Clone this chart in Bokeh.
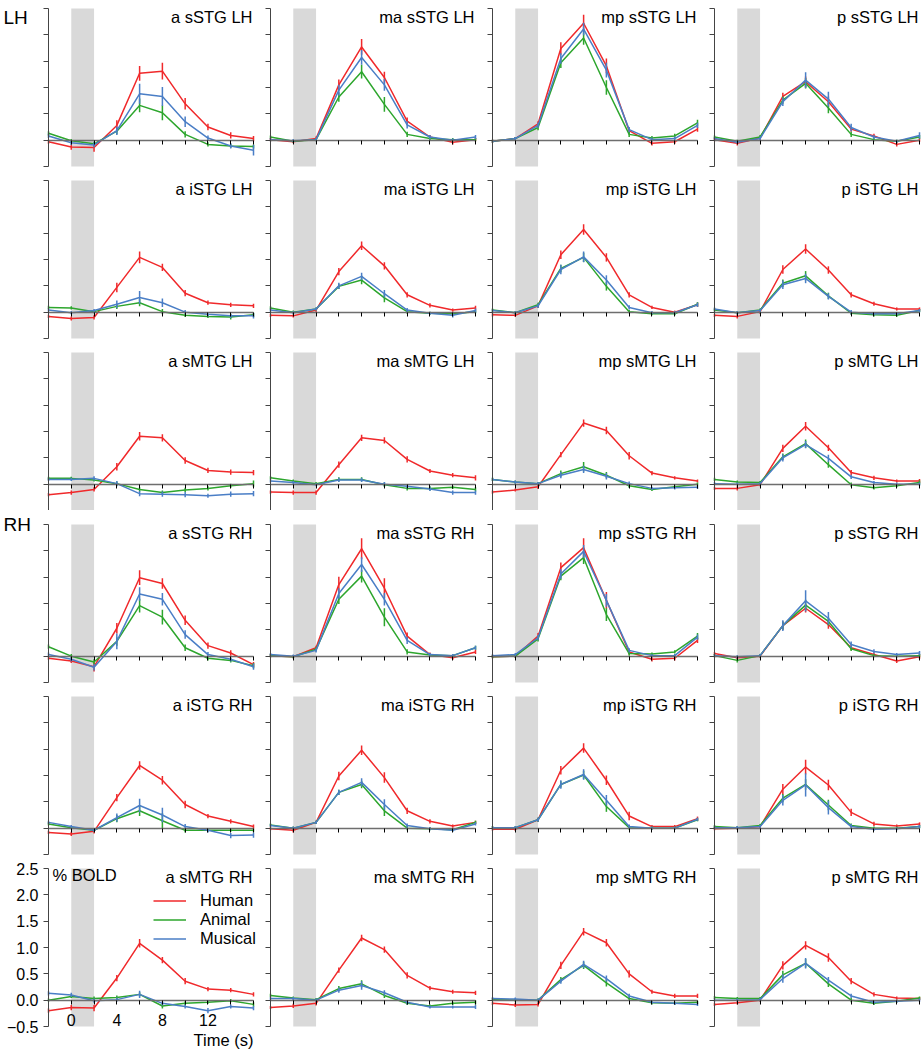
from bokeh.plotting import figure
from bokeh.layouts import gridplot
from bokeh.models import Range1d, FixedTicker, Label, Legend, LegendItem, BoxAnnotation
from bokeh.embed import file_html
from bokeh.resources import INLINE

# ---------------- data ----------------
time_s = [-2, 0, 2, 4, 6, 8, 10, 12, 14, 16]
t_min, t_max = -2, 16
bold_min, bold_max = -0.5, 2.5
stim_on, stim_off = 0, 2
y_ticks = [-0.5, 0.0, 0.5, 1.0, 1.5, 2.0, 2.5]
y_tick_labels = ["\u22120.5", "0.0", "0.5", "1.0", "1.5", "2.0", "2.5"]
x_ticks = [0, 2, 4, 6, 8, 10, 12, 14, 16]
x_tick_labels = ["0", "", "4", "", "8", "", "12", "", ""]
regions = ["sSTG LH", "iSTG LH", "sMTG LH", "sSTG RH", "iSTG RH", "sMTG RH"]
positions = ["a", "ma", "mp", "p"]
conditions = ["Human", "Animal", "Musical"]
hemi_labels = {0: "LH", 3: "RH"}

# row: sSTG LH
a_sSTG_LH_human = [-0.03, -0.13, -0.14, 0.28, 1.27, 1.31, 0.69, 0.25, 0.09, 0.03]
a_sSTG_LH_animal = [0.13, -0.01, -0.07, 0.17, 0.66, 0.52, 0.11, -0.08, -0.11, -0.12]
a_sSTG_LH_musical = [0.08, -0.05, -0.09, 0.18, 0.88, 0.83, 0.35, 0.04, -0.11, -0.19]
a_sSTG_LH_human_err = [0.04, 0.05, 0.08, 0.10, 0.14, 0.16, 0.11, 0.06, 0.06, 0.05]
a_sSTG_LH_animal_err = [0.04, 0.03, 0.04, 0.06, 0.13, 0.14, 0.06, 0.04, 0.04, 0.04]
a_sSTG_LH_musical_err = [0.04, 0.04, 0.05, 0.08, 0.19, 0.18, 0.10, 0.05, 0.05, 0.10]

ma_sSTG_LH_human = [0.01, -0.03, 0.03, 1.05, 1.77, 1.19, 0.36, 0.06, -0.04, 0.01]
ma_sSTG_LH_animal = [0.06, -0.02, 0.01, 0.82, 1.30, 0.68, 0.11, 0.03, 0.01, 0.01]
ma_sSTG_LH_musical = [0.01, -0.01, 0.01, 0.95, 1.57, 1.05, 0.29, 0.06, 0.00, 0.06]
ma_sSTG_LH_human_err = [0.03, 0.03, 0.04, 0.10, 0.15, 0.11, 0.07, 0.04, 0.04, 0.03]
ma_sSTG_LH_animal_err = [0.03, 0.03, 0.03, 0.09, 0.13, 0.14, 0.05, 0.03, 0.03, 0.03]
ma_sSTG_LH_musical_err = [0.03, 0.03, 0.03, 0.10, 0.14, 0.11, 0.07, 0.04, 0.03, 0.04]

mp_sSTG_LH_human = [-0.02, 0.03, 0.31, 1.74, 2.22, 1.41, 0.18, -0.06, -0.03, 0.21]
mp_sSTG_LH_animal = [-0.02, 0.03, 0.24, 1.47, 1.94, 1.00, 0.11, 0.04, 0.08, 0.33]
mp_sSTG_LH_musical = [-0.02, 0.03, 0.28, 1.55, 2.11, 1.33, 0.20, 0.01, 0.03, 0.28]
mp_sSTG_LH_human_err = [0.03, 0.03, 0.05, 0.12, 0.16, 0.14, 0.05, 0.04, 0.04, 0.05]
mp_sSTG_LH_animal_err = [0.03, 0.03, 0.05, 0.10, 0.13, 0.14, 0.05, 0.04, 0.04, 0.06]
mp_sSTG_LH_musical_err = [0.03, 0.03, 0.05, 0.10, 0.12, 0.14, 0.05, 0.04, 0.04, 0.05]

p_sSTG_LH_human = [0.01, -0.06, 0.04, 0.83, 1.11, 0.73, 0.21, 0.08, -0.08, 0.00]
p_sSTG_LH_animal = [0.06, -0.02, 0.06, 0.76, 1.08, 0.61, 0.11, 0.01, -0.02, 0.06]
p_sSTG_LH_musical = [0.03, -0.04, 0.03, 0.73, 1.14, 0.78, 0.24, 0.06, -0.02, 0.09]
p_sSTG_LH_human_err = [0.03, 0.04, 0.04, 0.07, 0.10, 0.10, 0.05, 0.04, 0.04, 0.03]
p_sSTG_LH_animal_err = [0.03, 0.03, 0.04, 0.07, 0.10, 0.10, 0.05, 0.03, 0.03, 0.04]
p_sSTG_LH_musical_err = [0.03, 0.03, 0.04, 0.08, 0.15, 0.14, 0.07, 0.04, 0.03, 0.06]

# row: iSTG LH
a_iSTG_LH_human = [-0.08, -0.12, -0.10, 0.47, 1.04, 0.85, 0.36, 0.18, 0.14, 0.12]
a_iSTG_LH_animal = [0.09, 0.08, 0.01, 0.11, 0.18, 0.01, -0.06, -0.08, -0.09, -0.05]
a_iSTG_LH_musical = [0.04, -0.01, 0.03, 0.15, 0.28, 0.18, 0.00, -0.04, -0.07, -0.07]
a_iSTG_LH_human_err = [0.03, 0.04, 0.04, 0.09, 0.11, 0.07, 0.06, 0.04, 0.04, 0.04]
a_iSTG_LH_animal_err = [0.03, 0.03, 0.03, 0.05, 0.07, 0.05, 0.03, 0.03, 0.05, 0.04]
a_iSTG_LH_musical_err = [0.03, 0.03, 0.03, 0.07, 0.12, 0.08, 0.04, 0.04, 0.04, 0.05]

ma_iSTG_LH_human = [-0.06, -0.07, 0.04, 0.77, 1.26, 0.88, 0.33, 0.13, 0.04, 0.08]
ma_iSTG_LH_animal = [0.08, 0.00, 0.06, 0.49, 0.61, 0.27, 0.01, -0.02, -0.03, 0.01]
ma_iSTG_LH_musical = [0.04, -0.01, 0.06, 0.50, 0.68, 0.35, 0.04, -0.02, -0.06, 0.03]
ma_iSTG_LH_human_err = [0.03, 0.03, 0.04, 0.07, 0.08, 0.07, 0.05, 0.04, 0.03, 0.04]
ma_iSTG_LH_animal_err = [0.03, 0.03, 0.03, 0.05, 0.08, 0.08, 0.04, 0.03, 0.03, 0.03]
ma_iSTG_LH_musical_err = [0.03, 0.03, 0.03, 0.06, 0.07, 0.07, 0.04, 0.03, 0.04, 0.04]

mp_iSTG_LH_human = [-0.05, -0.06, 0.12, 1.09, 1.57, 1.04, 0.33, 0.09, 0.00, 0.14]
mp_iSTG_LH_animal = [0.04, -0.01, 0.14, 0.83, 1.04, 0.49, 0.01, -0.03, -0.03, 0.15]
mp_iSTG_LH_musical = [0.03, -0.01, 0.12, 0.81, 1.05, 0.61, 0.09, -0.01, -0.01, 0.14]
mp_iSTG_LH_human_err = [0.03, 0.03, 0.04, 0.08, 0.10, 0.08, 0.05, 0.03, 0.03, 0.04]
mp_iSTG_LH_animal_err = [0.03, 0.03, 0.04, 0.07, 0.09, 0.08, 0.03, 0.03, 0.03, 0.04]
mp_iSTG_LH_musical_err = [0.03, 0.03, 0.04, 0.09, 0.10, 0.09, 0.04, 0.03, 0.03, 0.04]

p_iSTG_LH_human = [-0.06, -0.08, 0.01, 0.81, 1.20, 0.80, 0.33, 0.16, 0.06, 0.06]
p_iSTG_LH_animal = [0.04, -0.01, 0.04, 0.55, 0.69, 0.31, -0.02, -0.05, -0.06, 0.03]
p_iSTG_LH_musical = [0.06, -0.01, 0.03, 0.52, 0.64, 0.30, 0.00, -0.03, -0.03, 0.03]
p_iSTG_LH_human_err = [0.03, 0.04, 0.04, 0.08, 0.09, 0.07, 0.05, 0.04, 0.03, 0.03]
p_iSTG_LH_animal_err = [0.03, 0.03, 0.03, 0.07, 0.09, 0.06, 0.03, 0.03, 0.03, 0.03]
p_iSTG_LH_musical_err = [0.03, 0.03, 0.03, 0.08, 0.09, 0.06, 0.04, 0.03, 0.03, 0.03]

# row: sMTG LH
a_sMTG_LH_human = [-0.20, -0.16, -0.10, 0.33, 0.91, 0.88, 0.45, 0.26, 0.23, 0.22]
a_sMTG_LH_animal = [0.11, 0.11, 0.08, 0.01, -0.10, -0.16, -0.11, -0.08, -0.03, 0.01]
a_sMTG_LH_musical = [0.09, 0.09, 0.11, 0.01, -0.18, -0.19, -0.20, -0.22, -0.19, -0.18]
a_sMTG_LH_human_err = [0.03, 0.04, 0.04, 0.07, 0.08, 0.07, 0.06, 0.05, 0.05, 0.05]
a_sMTG_LH_animal_err = [0.03, 0.03, 0.03, 0.04, 0.04, 0.04, 0.04, 0.04, 0.04, 0.06]
a_sMTG_LH_musical_err = [0.03, 0.03, 0.04, 0.05, 0.05, 0.05, 0.05, 0.04, 0.05, 0.05]

ma_sMTG_LH_human = [-0.15, -0.16, -0.16, 0.37, 0.88, 0.83, 0.47, 0.25, 0.17, 0.12]
ma_sMTG_LH_animal = [0.12, 0.06, 0.01, 0.09, 0.09, -0.01, -0.08, -0.08, -0.06, -0.10]
ma_sMTG_LH_musical = [0.06, 0.03, -0.01, 0.08, 0.08, 0.00, -0.04, -0.09, -0.16, -0.16]
ma_sMTG_LH_human_err = [0.03, 0.04, 0.04, 0.06, 0.06, 0.06, 0.06, 0.04, 0.04, 0.05]
ma_sMTG_LH_animal_err = [0.03, 0.03, 0.03, 0.04, 0.04, 0.04, 0.04, 0.04, 0.03, 0.04]
ma_sMTG_LH_musical_err = [0.03, 0.03, 0.03, 0.04, 0.04, 0.04, 0.04, 0.04, 0.04, 0.04]

mp_sMTG_LH_human = [-0.15, -0.11, -0.05, 0.56, 1.16, 1.02, 0.54, 0.21, 0.12, 0.06]
mp_sMTG_LH_animal = [0.09, 0.04, 0.01, 0.20, 0.33, 0.17, -0.03, -0.10, -0.05, 0.00]
mp_sMTG_LH_musical = [0.09, 0.04, 0.01, 0.17, 0.28, 0.15, 0.01, -0.08, -0.07, -0.06]
mp_sMTG_LH_human_err = [0.03, 0.03, 0.04, 0.05, 0.07, 0.07, 0.07, 0.04, 0.03, 0.03]
mp_sMTG_LH_animal_err = [0.03, 0.03, 0.03, 0.06, 0.09, 0.06, 0.04, 0.03, 0.03, 0.03]
mp_sMTG_LH_musical_err = [0.03, 0.03, 0.03, 0.06, 0.07, 0.06, 0.04, 0.03, 0.03, 0.03]

p_sMTG_LH_human = [-0.08, -0.08, -0.01, 0.68, 1.10, 0.69, 0.22, 0.12, 0.06, 0.06]
p_sMTG_LH_animal = [0.09, 0.04, 0.03, 0.52, 0.77, 0.37, -0.01, -0.07, -0.03, 0.03]
p_sMTG_LH_musical = [0.01, 0.00, 0.01, 0.50, 0.75, 0.49, 0.14, 0.03, 0.00, 0.00]
p_sMTG_LH_human_err = [0.03, 0.04, 0.03, 0.07, 0.08, 0.06, 0.05, 0.04, 0.03, 0.04]
p_sMTG_LH_animal_err = [0.03, 0.03, 0.03, 0.06, 0.08, 0.06, 0.04, 0.03, 0.03, 0.04]
p_sMTG_LH_musical_err = [0.03, 0.03, 0.03, 0.07, 0.07, 0.07, 0.04, 0.03, 0.03, 0.03]

# row: sSTG RH
a_sSTG_RH_human = [-0.04, -0.09, -0.20, 0.53, 1.49, 1.38, 0.68, 0.20, 0.06, -0.16]
a_sSTG_RH_animal = [0.18, 0.00, -0.11, 0.28, 0.96, 0.74, 0.16, -0.04, -0.08, -0.18]
a_sSTG_RH_musical = [0.03, -0.06, -0.21, 0.28, 1.18, 1.08, 0.41, 0.03, -0.06, -0.20]
a_sSTG_RH_human_err = [0.03, 0.04, 0.09, 0.10, 0.14, 0.10, 0.09, 0.06, 0.05, 0.05]
a_sSTG_RH_animal_err = [0.04, 0.04, 0.05, 0.08, 0.13, 0.14, 0.06, 0.04, 0.04, 0.05]
a_sSTG_RH_musical_err = [0.04, 0.04, 0.06, 0.15, 0.13, 0.12, 0.08, 0.05, 0.04, 0.06]

ma_sSTG_RH_human = [0.01, -0.01, 0.16, 1.36, 2.04, 1.29, 0.38, 0.03, -0.03, 0.08]
ma_sSTG_RH_animal = [0.01, -0.01, 0.13, 1.08, 1.52, 0.74, 0.08, 0.02, 0.01, 0.16]
ma_sSTG_RH_musical = [0.03, 0.00, 0.11, 1.19, 1.74, 1.08, 0.30, 0.03, 0.01, 0.16]
ma_sSTG_RH_human_err = [0.03, 0.03, 0.04, 0.15, 0.20, 0.19, 0.07, 0.04, 0.04, 0.04]
ma_sSTG_RH_animal_err = [0.03, 0.03, 0.04, 0.09, 0.12, 0.17, 0.05, 0.03, 0.03, 0.04]
ma_sSTG_RH_musical_err = [0.03, 0.03, 0.04, 0.10, 0.14, 0.12, 0.07, 0.03, 0.03, 0.04]

mp_sSTG_RH_human = [-0.01, 0.00, 0.38, 1.68, 2.06, 1.06, 0.08, -0.06, -0.04, 0.30]
mp_sSTG_RH_animal = [-0.01, 0.00, 0.33, 1.52, 1.87, 0.79, 0.05, 0.04, 0.08, 0.38]
mp_sSTG_RH_musical = [0.01, 0.03, 0.35, 1.56, 1.99, 1.06, 0.11, 0.01, 0.01, 0.36]
mp_sSTG_RH_human_err = [0.03, 0.03, 0.06, 0.10, 0.18, 0.16, 0.05, 0.04, 0.04, 0.05]
mp_sSTG_RH_animal_err = [0.03, 0.03, 0.05, 0.08, 0.12, 0.12, 0.04, 0.03, 0.03, 0.06]
mp_sSTG_RH_musical_err = [0.03, 0.03, 0.05, 0.09, 0.12, 0.12, 0.04, 0.03, 0.03, 0.05]

p_sSTG_RH_human = [0.05, -0.03, 0.00, 0.58, 0.91, 0.60, 0.16, 0.03, -0.09, -0.01]
p_sSTG_RH_animal = [0.01, -0.08, 0.01, 0.58, 0.97, 0.66, 0.14, 0.01, 0.00, 0.01]
p_sSTG_RH_musical = [0.01, -0.01, 0.01, 0.58, 1.05, 0.72, 0.22, 0.09, 0.03, 0.06]
p_sSTG_RH_human_err = [0.03, 0.03, 0.03, 0.08, 0.08, 0.08, 0.05, 0.04, 0.04, 0.04]
p_sSTG_RH_animal_err = [0.03, 0.04, 0.03, 0.08, 0.10, 0.08, 0.04, 0.03, 0.03, 0.03]
p_sSTG_RH_musical_err = [0.03, 0.03, 0.03, 0.10, 0.20, 0.12, 0.06, 0.04, 0.03, 0.04]

# row: iSTG RH
a_iSTG_RH_human = [-0.08, -0.11, -0.06, 0.58, 1.19, 0.91, 0.45, 0.23, 0.13, 0.03]
a_iSTG_RH_animal = [0.08, 0.01, -0.04, 0.18, 0.33, 0.14, -0.04, -0.04, -0.04, -0.04]
a_iSTG_RH_musical = [0.11, 0.03, -0.04, 0.20, 0.43, 0.25, 0.03, -0.04, -0.14, -0.13]
a_iSTG_RH_human_err = [0.03, 0.04, 0.04, 0.07, 0.08, 0.08, 0.07, 0.04, 0.04, 0.04]
a_iSTG_RH_animal_err = [0.03, 0.03, 0.03, 0.07, 0.10, 0.15, 0.04, 0.03, 0.03, 0.03]
a_iSTG_RH_musical_err = [0.03, 0.03, 0.03, 0.08, 0.13, 0.14, 0.05, 0.04, 0.05, 0.05]

ma_iSTG_RH_human = [-0.01, -0.04, 0.11, 0.99, 1.48, 0.96, 0.33, 0.13, 0.04, 0.11]
ma_iSTG_RH_animal = [0.06, 0.00, 0.11, 0.68, 0.83, 0.33, 0.00, -0.01, -0.03, 0.11]
ma_iSTG_RH_musical = [0.05, 0.00, 0.11, 0.68, 0.87, 0.45, 0.05, -0.01, -0.04, 0.08]
ma_iSTG_RH_human_err = [0.03, 0.04, 0.03, 0.08, 0.09, 0.10, 0.06, 0.04, 0.03, 0.03]
ma_iSTG_RH_animal_err = [0.03, 0.03, 0.03, 0.05, 0.07, 0.10, 0.04, 0.03, 0.03, 0.03]
ma_iSTG_RH_musical_err = [0.03, 0.03, 0.03, 0.05, 0.08, 0.10, 0.04, 0.03, 0.03, 0.03]

mp_iSTG_RH_human = [-0.02, -0.02, 0.16, 1.10, 1.52, 0.91, 0.23, 0.03, 0.03, 0.18]
mp_iSTG_RH_animal = [0.01, 0.01, 0.16, 0.83, 1.01, 0.41, 0.01, 0.00, 0.00, 0.16]
mp_iSTG_RH_musical = [0.01, 0.01, 0.16, 0.83, 1.02, 0.53, 0.03, 0.00, 0.00, 0.17]
mp_iSTG_RH_human_err = [0.03, 0.03, 0.04, 0.08, 0.09, 0.09, 0.08, 0.03, 0.03, 0.04]
mp_iSTG_RH_animal_err = [0.03, 0.03, 0.04, 0.06, 0.08, 0.10, 0.04, 0.03, 0.03, 0.03]
mp_iSTG_RH_musical_err = [0.03, 0.03, 0.04, 0.08, 0.10, 0.10, 0.04, 0.03, 0.03, 0.03]

p_iSTG_RH_human = [-0.01, 0.00, 0.03, 0.74, 1.16, 0.82, 0.30, 0.08, 0.04, 0.08]
p_iSTG_RH_animal = [0.03, 0.01, 0.05, 0.57, 0.83, 0.44, 0.05, 0.00, 0.00, 0.03]
p_iSTG_RH_musical = [0.01, 0.01, 0.03, 0.53, 0.82, 0.39, 0.03, -0.02, -0.01, 0.03]
p_iSTG_RH_human_err = [0.03, 0.03, 0.03, 0.10, 0.14, 0.10, 0.07, 0.04, 0.03, 0.03]
p_iSTG_RH_animal_err = [0.03, 0.03, 0.03, 0.08, 0.10, 0.10, 0.04, 0.03, 0.03, 0.03]
p_iSTG_RH_musical_err = [0.03, 0.03, 0.03, 0.10, 0.22, 0.13, 0.05, 0.03, 0.03, 0.03]

# row: sMTG RH
a_sMTG_RH_human = [-0.20, -0.14, -0.15, 0.42, 1.08, 0.76, 0.36, 0.21, 0.19, 0.11]
a_sMTG_RH_animal = [0.00, 0.07, 0.03, 0.05, 0.11, -0.11, -0.06, -0.04, -0.01, -0.08]
a_sMTG_RH_musical = [0.13, 0.10, -0.01, 0.01, 0.11, -0.06, -0.12, -0.20, -0.12, -0.15]
a_sMTG_RH_human_err = [0.04, 0.05, 0.06, 0.06, 0.08, 0.06, 0.06, 0.04, 0.04, 0.04]
a_sMTG_RH_animal_err = [0.03, 0.03, 0.04, 0.04, 0.04, 0.05, 0.04, 0.03, 0.03, 0.04]
a_sMTG_RH_musical_err = [0.04, 0.04, 0.04, 0.04, 0.07, 0.04, 0.04, 0.05, 0.04, 0.04]

ma_sMTG_RH_human = [-0.14, -0.11, -0.06, 0.57, 1.18, 0.96, 0.47, 0.23, 0.16, 0.14]
ma_sMTG_RH_animal = [0.09, 0.04, 0.01, 0.22, 0.31, 0.09, -0.06, -0.11, -0.06, -0.04]
ma_sMTG_RH_musical = [0.03, 0.03, 0.00, 0.19, 0.28, 0.14, -0.04, -0.13, -0.13, -0.13]
ma_sMTG_RH_human_err = [0.03, 0.04, 0.04, 0.05, 0.06, 0.06, 0.06, 0.04, 0.04, 0.04]
ma_sMTG_RH_animal_err = [0.03, 0.03, 0.03, 0.05, 0.07, 0.05, 0.03, 0.03, 0.03, 0.04]
ma_sMTG_RH_musical_err = [0.03, 0.03, 0.03, 0.05, 0.08, 0.05, 0.04, 0.03, 0.03, 0.04]

mp_sMTG_RH_human = [-0.06, -0.09, -0.08, 0.66, 1.30, 1.09, 0.50, 0.16, 0.08, 0.08]
mp_sMTG_RH_animal = [0.01, 0.00, 0.00, 0.39, 0.66, 0.33, 0.03, -0.05, -0.06, -0.04]
mp_sMTG_RH_musical = [0.03, 0.02, 0.00, 0.36, 0.68, 0.41, 0.08, -0.04, -0.06, -0.08]
mp_sMTG_RH_human_err = [0.03, 0.04, 0.04, 0.07, 0.07, 0.07, 0.07, 0.04, 0.04, 0.04]
mp_sMTG_RH_animal_err = [0.03, 0.03, 0.03, 0.05, 0.07, 0.07, 0.04, 0.03, 0.03, 0.03]
mp_sMTG_RH_musical_err = [0.03, 0.03, 0.03, 0.05, 0.07, 0.06, 0.04, 0.03, 0.03, 0.03]

p_sMTG_RH_human = [-0.08, -0.05, 0.00, 0.66, 1.04, 0.81, 0.36, 0.11, 0.04, 0.03]
p_sMTG_RH_animal = [0.05, 0.03, 0.03, 0.48, 0.70, 0.31, 0.00, -0.06, -0.02, 0.04]
p_sMTG_RH_musical = [0.00, 0.00, 0.01, 0.41, 0.70, 0.38, 0.08, -0.04, -0.02, 0.00]
p_sMTG_RH_human_err = [0.03, 0.03, 0.03, 0.08, 0.08, 0.08, 0.06, 0.04, 0.03, 0.03]
p_sMTG_RH_animal_err = [0.03, 0.03, 0.03, 0.08, 0.08, 0.06, 0.04, 0.03, 0.03, 0.03]
p_sMTG_RH_musical_err = [0.03, 0.03, 0.03, 0.08, 0.10, 0.06, 0.04, 0.03, 0.03, 0.03]

# ---------------- style ----------------
FONT = "Liberation Sans"
COLORS = {"Human": "#f0292b", "Animal": "#2da62d", "Musical": "#4a7ec6"}
# inner panel box (from t_min..t_max, bold_min..bold_max) in pixels
BOX_W, BOX_H = 205, 158
# margins around the panel box that stay inside each figure
COL_LEFT = [48, 8, 8, 8]
COL_RIGHT = [9, 9, 9, 2]
ROW_TOP = [8, 8, 8, 14, 8, 8]
ROW_BOTTOM = [6, 6, 0, 6, 6, 24]

sx = (t_max - t_min) / BOX_W          # seconds per pixel
sy = (bold_max - bold_min) / BOX_H    # % BOLD per pixel

G = globals()
rows = []
for r, region in enumerate(regions):
    row = []
    for c, pos in enumerate(positions):
        last_left = (r == len(regions) - 1 and c == 0)
        p = figure(width=COL_LEFT[c] + BOX_W + COL_RIGHT[c],
                   height=ROW_TOP[r] + BOX_H + ROW_BOTTOM[r],
                   x_range=Range1d(t_min - COL_LEFT[c] * sx, t_max + COL_RIGHT[c] * sx),
                   y_range=Range1d(bold_min - ROW_BOTTOM[r] * sy, bold_max + ROW_TOP[r] * sy),
                   min_border_left=0, min_border_right=0,
                   min_border_top=0, min_border_bottom=0,
                   output_backend="svg", toolbar_location=None)
        p.grid.visible = False
        p.outline_line_color = None
        p.background_fill_color = "white"
        p.border_fill_color = "white"

        # stimulus window
        p.add_layout(BoxAnnotation(left=stim_on, right=stim_off, bottom=bold_min, top=bold_max,
                                   fill_color="#d9d9d9", fill_alpha=1.0, line_color=None,
                                   level="underlay"))

        # y axis at t_min
        ya = p.yaxis[0]
        ya.fixed_location = t_min
        ya.bounds = (bold_min, bold_max)
        ya.ticker = FixedTicker(ticks=y_ticks)
        ya.major_tick_in = 0
        ya.major_tick_out = 5
        ya.minor_tick_line_color = None
        ya.axis_line_color = "#444444"
        ya.major_tick_line_color = "#444444"
        ya.major_label_text_font = FONT
        ya.major_label_text_font_style = "normal"
        ya.major_label_text_font_size = "16px"
        ya.major_label_text_color = "black"
        ya.major_label_standoff = 5
        if last_left:
            ya.major_label_overrides = {t: l for t, l in zip(y_ticks, y_tick_labels)}
        else:
            ya.major_label_overrides = {t: "" for t in y_ticks}

        # x axis on the zero line
        xa = p.xaxis[0]
        xa.fixed_location = 0
        xa.bounds = (t_min, t_max)
        xa.ticker = FixedTicker(ticks=x_ticks)
        xa.major_tick_in = 0
        xa.major_tick_out = 4
        xa.minor_tick_line_color = None
        xa.axis_line_color = "#6e6e6e"
        xa.axis_line_width = 1.5
        xa.major_tick_line_color = "black"
        xa.major_label_text_font = FONT
        xa.major_label_text_font_style = "normal"
        xa.major_label_text_font_size = "16px"
        xa.major_label_text_color = "black"
        xa.major_label_standoff = 10
        if last_left:
            xa.major_label_overrides = {t: l for t, l in zip(x_ticks, x_tick_labels)}
        else:
            xa.major_label_overrides = {t: "" for t in x_ticks}

        base = f"{pos}_{region.replace(' ', '_')}"
        items = []
        for cond in conditions:
            vals = G[f"{base}_{cond.lower()}"]
            errs = G[f"{base}_{cond.lower()}_err"]
            col = COLORS[cond]
            lr = p.line(time_s, vals, line_color=col, line_width=1.5)
            p.segment(x0=time_s, x1=time_s,
                      y0=[v - e for v, e in zip(vals, errs)],
                      y1=[v + e for v, e in zip(vals, errs)],
                      line_color=col, line_width=1.5)
            items.append(LegendItem(label=cond, renderers=[lr]))

        p.add_layout(Label(x=t_max, y=bold_max, text=f"{pos} {region}", text_align="right",
                           text_baseline="top", x_offset=-1, y_offset=1,
                           text_font=FONT, text_font_style="normal",
                           text_font_size="16.5px", text_color="black"))

        if c == 0 and r in hemi_labels:
            p.add_layout(Label(x=t_min, y=bold_max, text=hemi_labels[r],
                               text_align="left", text_baseline="top",
                               x_offset=-45, y_offset=2 if r == 0 else 11,
                               text_font=FONT, text_font_style="normal",
                               text_font_size="19px", text_color="black"))

        if last_left:
            p.add_layout(Label(x=t_min, y=bold_max, text="% BOLD", text_align="left",
                               text_baseline="top", x_offset=4, y_offset=3,
                               text_font=FONT, text_font_style="normal",
                               text_font_size="16.5px", text_color="black"))
            p.add_layout(Label(x=t_max, y=bold_min, text="Time (s)", text_align="right",
                               text_baseline="top", x_offset=0, y_offset=-4,
                               text_font=FONT, text_font_style="normal",
                               text_font_size="16.5px", text_color="black"))
            leg = Legend(items=items, location=(COL_LEFT[0] + 105, ROW_BOTTOM[r] + 78),
                         glyph_width=33, glyph_height=17,
                         label_height=17, label_width=70, label_standoff=14, spacing=0,
                         padding=0, margin=0,
                         border_line_color=None, background_fill_alpha=0,
                         label_text_font=FONT, label_text_font_style="normal",
                         label_text_font_size="16.5px",
                         label_text_line_height=1.0,
                         label_text_color="black")
            p.add_layout(leg)
        row.append(p)
    rows.append(row)

grid = gridplot(rows, toolbar_location=None)
grid.spacing = 0

open("out.html", "w").write(file_html(grid, INLINE))
